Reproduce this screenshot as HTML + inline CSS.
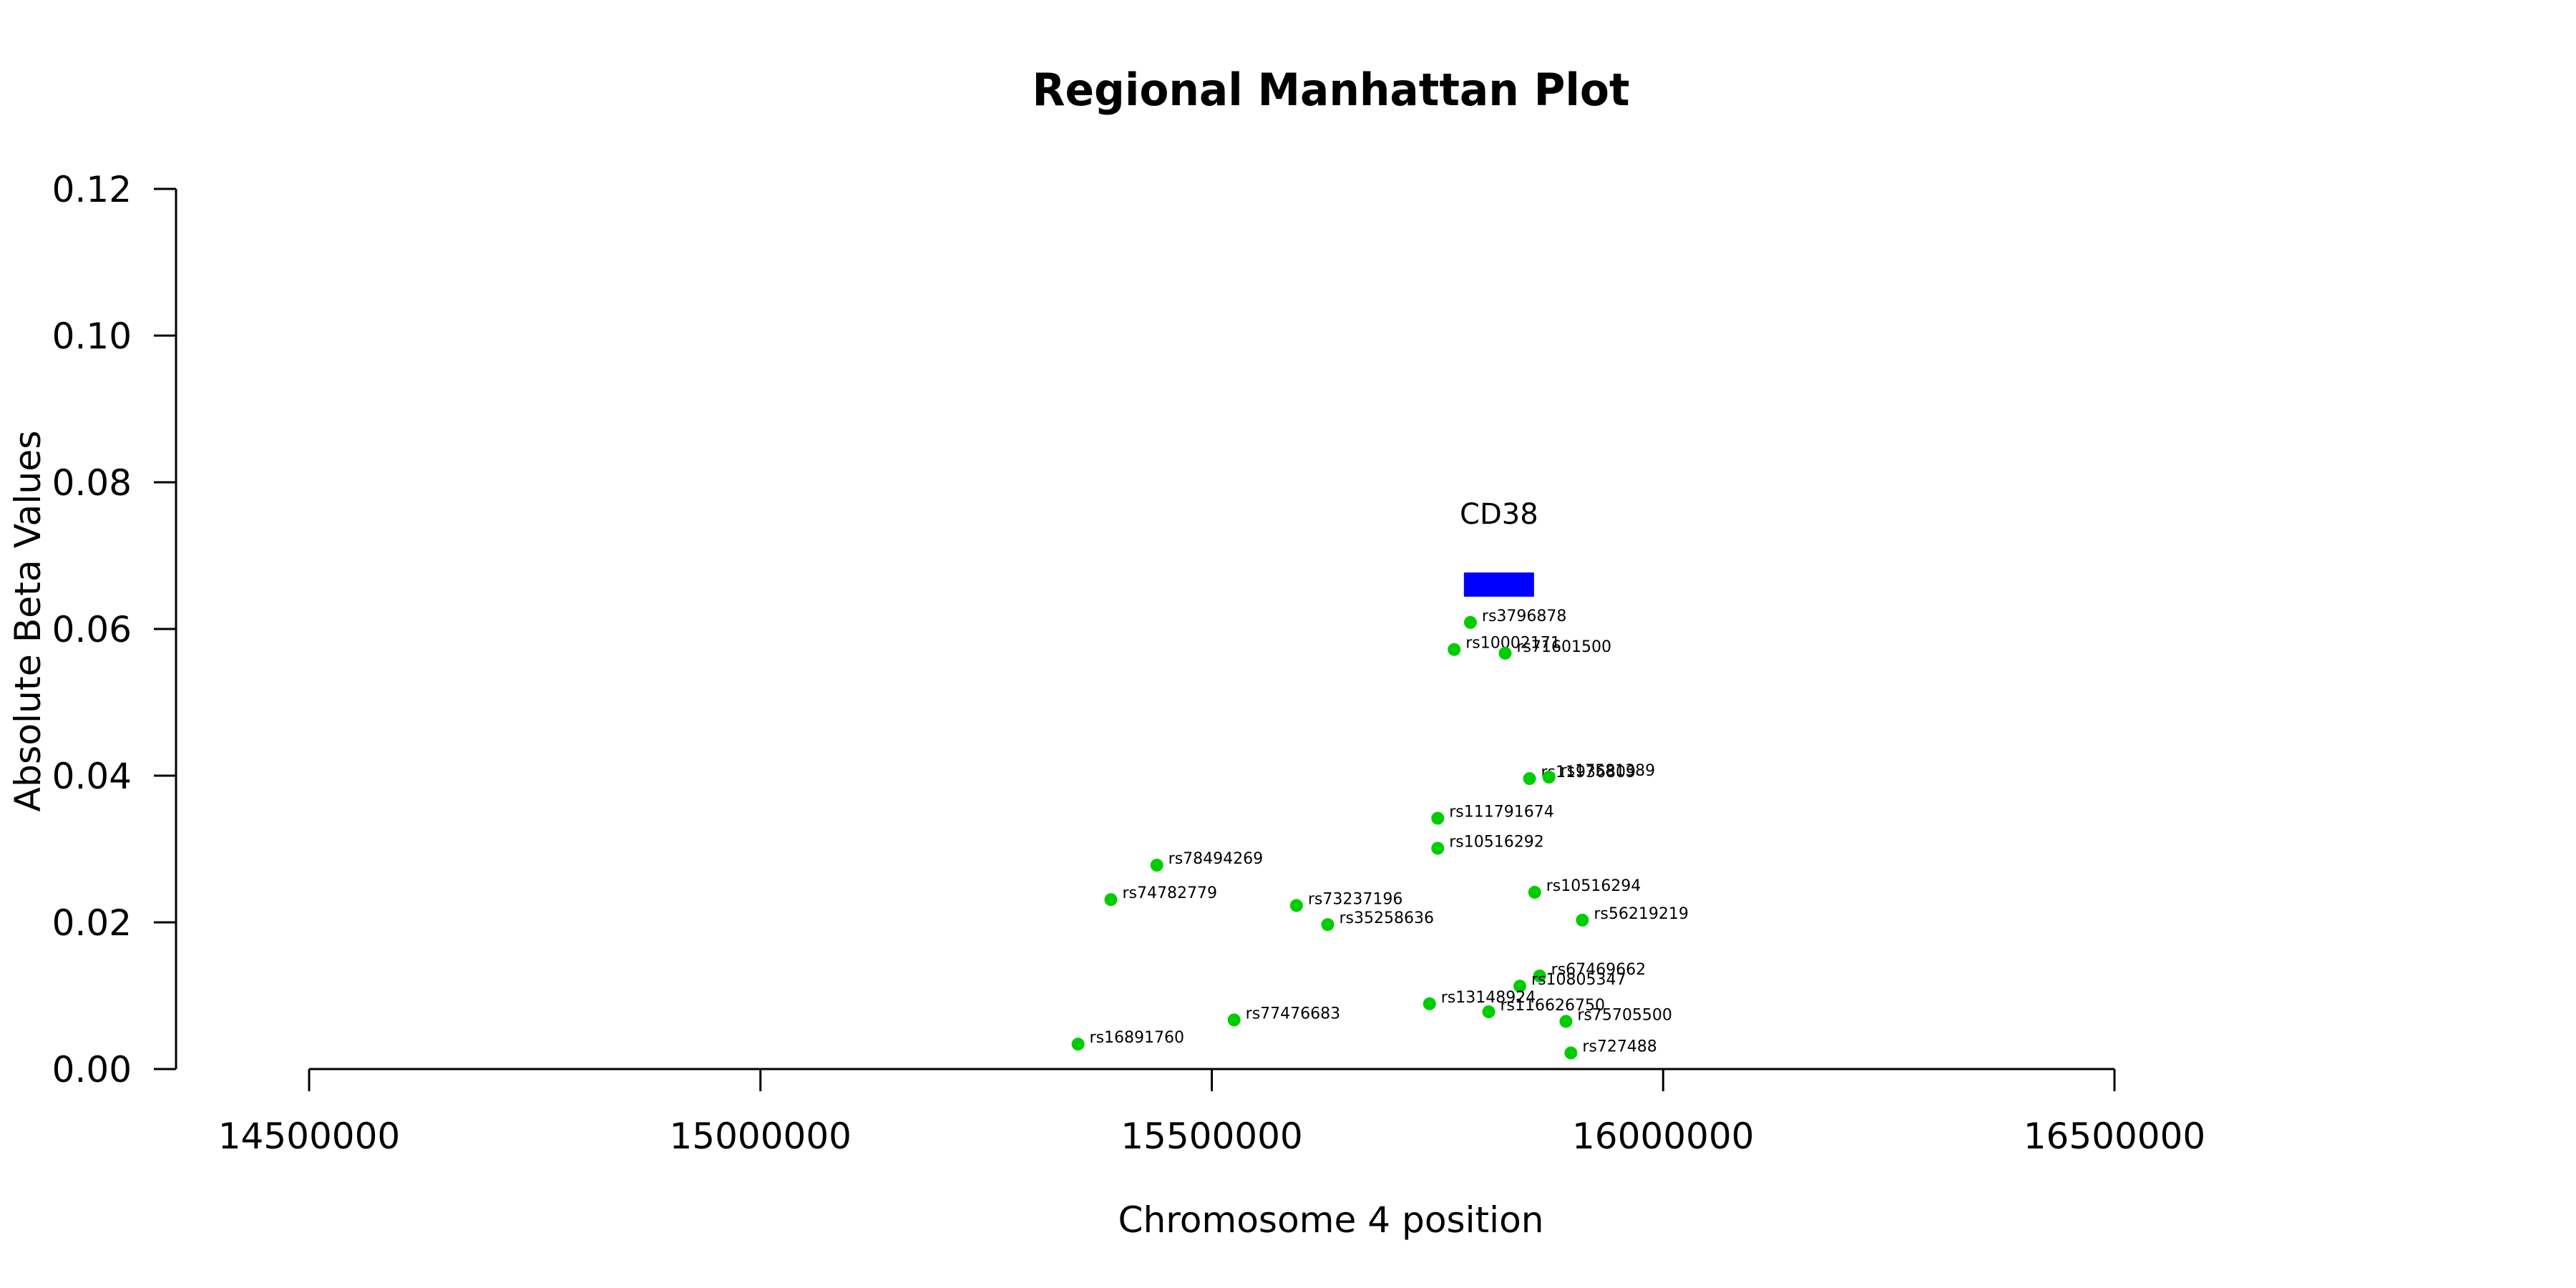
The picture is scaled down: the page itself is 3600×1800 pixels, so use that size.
<!DOCTYPE html>
<html><head><meta charset="utf-8"><style>
html,body{margin:0;padding:0;background:#fff;}
svg{display:block;font-family:"DejaVu Sans","Liberation Sans",sans-serif;}
</style></head><body>
<svg id="chart" width="3600" height="1800" viewBox="0 0 3600 1800" xmlns="http://www.w3.org/2000/svg">
<rect width="3600" height="1800" fill="#fff"/>
<text x="1860" y="147" font-size="62" font-weight="bold" text-anchor="middle" textLength="835" lengthAdjust="spacingAndGlyphs">Regional Manhattan Plot</text>
<text x="1860" y="1722" font-size="50" text-anchor="middle" textLength="595" lengthAdjust="spacingAndGlyphs">Chromosome 4 position</text>
<text transform="translate(56,868) rotate(-90)" font-size="50" text-anchor="middle" textLength="533" lengthAdjust="spacingAndGlyphs">Absolute Beta Values</text>
<g id="axes"></g>
<g id="marks"></g>
</svg>
<script>
const snpNames = ["rs3796878","rs10002171","rs71601500","rs11936809","rs17581389","rs111791674","rs10516292","rs78494269","rs74782779","rs73237196","rs35258636","rs10516294","rs56219219","rs67469662","rs10805347","rs13148924","rs116626750","rs75705500","rs727488","rs77476683","rs16891760"];
const snpPositions = [15786500,15768500,15825000,15852000,15873500,15750300,15750300,15439100,15388200,15593800,15628400,15857700,15910500,15863200,15841300,15741200,15806800,15892300,15897800,15524700,15351800];
const snpBetas = [0.0609,0.0572,0.0567,0.0396,0.0398,0.0342,0.0301,0.0278,0.0231,0.0223,0.0197,0.0241,0.0203,0.0127,0.0113,0.0089,0.0078,0.0065,0.0022,0.0067,0.0034];
const geneNames = ["CD38"];
const geneStarts = [15779300];
const geneEnds = [15857000];
const geneBetaTop = [0.0677];
const geneBetaBottom = [0.0644];
const geneLabelBeta = [0.0757];
const xTicks = [14500000,15000000,15500000,16000000,16500000];
const yTicks = [0,0.02,0.04,0.06,0.08,0.10,0.12];
const yTickLabels = ["0.00","0.02","0.04","0.06","0.08","0.10","0.12"];

const NS = "http://www.w3.org/2000/svg";
function xs(v){ return 432 + (v - 14500000) * (2523 / 2000000); }
function ys(v){ return 1494 - v * (1230 / 0.12); }
function mk(tag, attrs, parent, txt){
  const e = document.createElementNS(NS, tag);
  for (const k in attrs) e.setAttribute(k, attrs[k]);
  if (txt !== undefined) e.textContent = txt;
  parent.appendChild(e);
  return e;
}
const axes = document.getElementById('axes');
const marks = document.getElementById('marks');
const sw = 3;
// y axis
const yl = mk('line', {x1:246, x2:246, y1:ys(yTicks[yTicks.length-1]), y2:ys(yTicks[0]), stroke:'#000','stroke-width':sw}, axes);


yTicks.forEach((t,i)=>{
  const tk = mk('line', {x1:215, x2:246, y1:ys(t), y2:ys(t), stroke:'#000','stroke-width':sw}, axes);
  
  
  const lb = mk('text', {x:184, y:ys(t)+18, 'font-size':50, 'text-anchor':'end'}, axes, yTickLabels[i]);
  
  
});
// x axis
const xl = mk('line', {x1:xs(xTicks[0]), x2:xs(xTicks[xTicks.length-1]), y1:1494, y2:1494, stroke:'#000','stroke-width':sw}, axes);


xTicks.forEach(t=>{
  const tk = mk('line', {x1:xs(t), x2:xs(t), y1:1494, y2:1525, stroke:'#000','stroke-width':sw}, axes);
  
  
  const lb = mk('text', {x:xs(t), y:1605, 'font-size':50, 'text-anchor':'middle'}, axes, String(t));
  
  
});
// genes
geneNames.forEach((g,i)=>{
  const r = mk('rect', {x:xs(geneStarts[i]), y:ys(geneBetaTop[i]), width:xs(geneEnds[i])-xs(geneStarts[i]), height:ys(geneBetaBottom[i])-ys(geneBetaTop[i]), fill:'#0000ff'}, marks);
  
  
  const t = mk('text', {x:(xs(geneStarts[i])+xs(geneEnds[i]))/2, y:ys(geneLabelBeta[i])+14, 'font-size':40, 'text-anchor':'middle'}, marks, g);
  
  
});
// snps
snpNames.forEach((n,i)=>{
  const cx = xs(snpPositions[i]), cy = ys(snpBetas[i]);
  const c = mk('circle', {cx:cx, cy:cy, r:9, fill:'#00cd00'}, marks);
  
  
  const t = mk('text', {x:cx+16, y:cy-2, 'font-size':22}, marks, n);
  
  
});
</script>
</body></html>
